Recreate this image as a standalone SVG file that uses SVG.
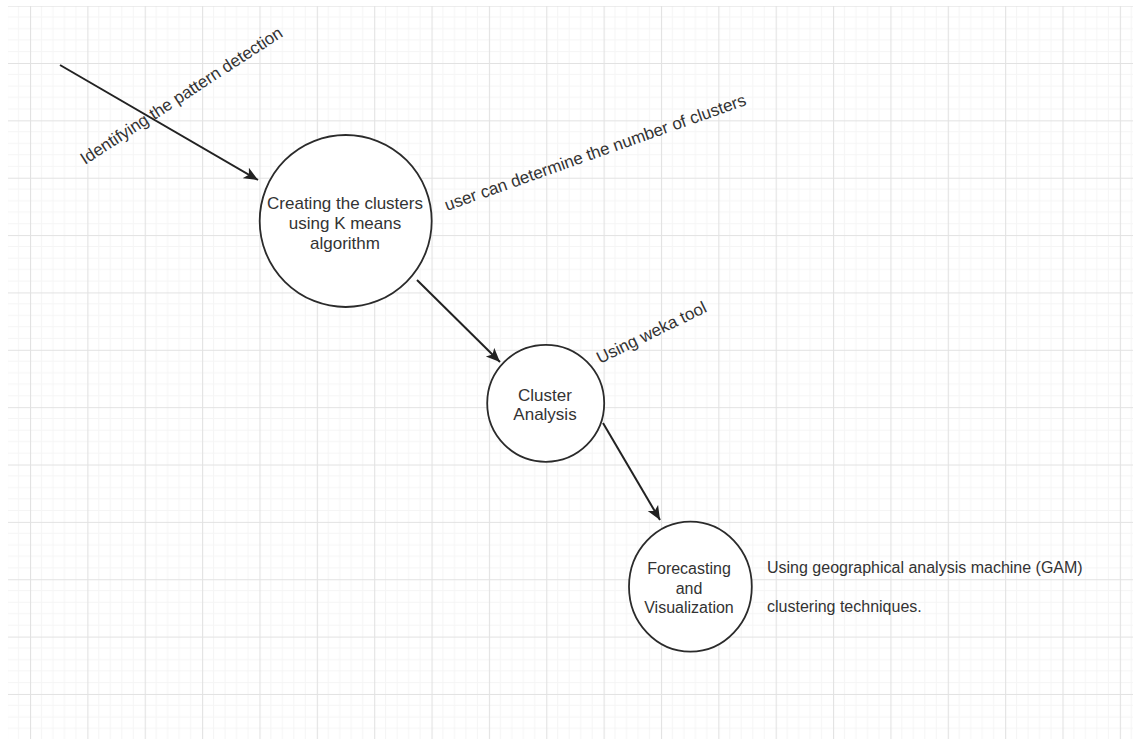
<svg xmlns="http://www.w3.org/2000/svg" width="1133" height="739" viewBox="0 0 1133 739">
  <style>
    .node { fill: #ffffff; stroke: #2b2b2b; stroke-width: 1.8; }
    .label { font-family: "Liberation Sans", Arial, sans-serif; font-size: 17px; fill: #333333; }
    .small { font-size: 16px; }
    .mid { text-anchor: middle; }
    .edge { fill: none; stroke: #222222; stroke-width: 2; }
  </style>
  <defs>
    <!-- canvas grid: faint minor lines every 1/5 of a major cell -->
    <pattern id="grid" patternUnits="userSpaceOnUse" x="30" y="63" width="57.36" height="57.36">
      <path d="M11.47 0V57.36M22.94 0V57.36M34.42 0V57.36M45.89 0V57.36M0 11.47H57.36M0 22.94H57.36M0 34.42H57.36M0 45.89H57.36" stroke="#f5f5f5" stroke-width="1" fill="none"/>
      <path d="M0.5 0V57.36M0 0.5H57.36" stroke="#e2e2e2" stroke-width="1.2" fill="none"/>
    </pattern>
    <marker id="arrow" markerUnits="userSpaceOnUse" markerWidth="16" markerHeight="14" refX="14" refY="6" orient="auto" viewBox="0 0 16 12">
      <path d="M0 0 L14 6 L0 12 L3.5 6 Z" fill="#222222"/>
    </marker>
  </defs>

  <rect width="1133" height="739" fill="#ffffff"/>
  <rect x="8" y="6" width="1125" height="733" fill="url(#grid)"/>

  <!-- connectors -->
  <g id="connectors">
    <line class="edge" x1="60" y1="65" x2="258" y2="180" marker-end="url(#arrow)"/>
    <line class="edge" x1="417" y1="280" x2="500" y2="362" marker-end="url(#arrow)"/>
    <line class="edge" x1="603" y1="423" x2="660" y2="520" marker-end="url(#arrow)"/>
  </g>

  <!-- edge / annotation labels -->
  <g id="labels">
    <text class="label" transform="translate(85 165) rotate(-33)">Identifying the pattern detection</text>
    <text class="label" transform="translate(447 211) rotate(-19.5)">user can determine the number of clusters</text>
    <text class="label" transform="translate(600 364) rotate(-26)">Using weka tool</text>
    <text class="label small" x="767" y="573">Using geographical analysis machine (GAM)</text>
    <text class="label small" x="767" y="612">clustering techniques.</text>
  </g>

  <g id="node-kmeans">
    <circle class="node" cx="345.7" cy="221" r="86"/>
    <text class="label mid" x="345" y="209">Creating the clusters</text>
    <text class="label mid" x="345" y="229">using K means</text>
    <text class="label mid" x="345" y="249">algorithm</text>
  </g>

  <g id="node-analysis">
    <circle class="node" cx="545.7" cy="403.3" r="58.5"/>
    <text class="label mid" x="545" y="401">Cluster</text>
    <text class="label mid" x="545" y="420">Analysis</text>
  </g>

  <g id="node-forecast">
    <ellipse class="node" cx="690.4" cy="586.7" rx="61.4" ry="65"/>
    <text class="label small mid" x="689" y="573.5">Forecasting</text>
    <text class="label small mid" x="689" y="593.5">and</text>
    <text class="label small mid" x="689" y="613">Visualization</text>
  </g>
</svg>
